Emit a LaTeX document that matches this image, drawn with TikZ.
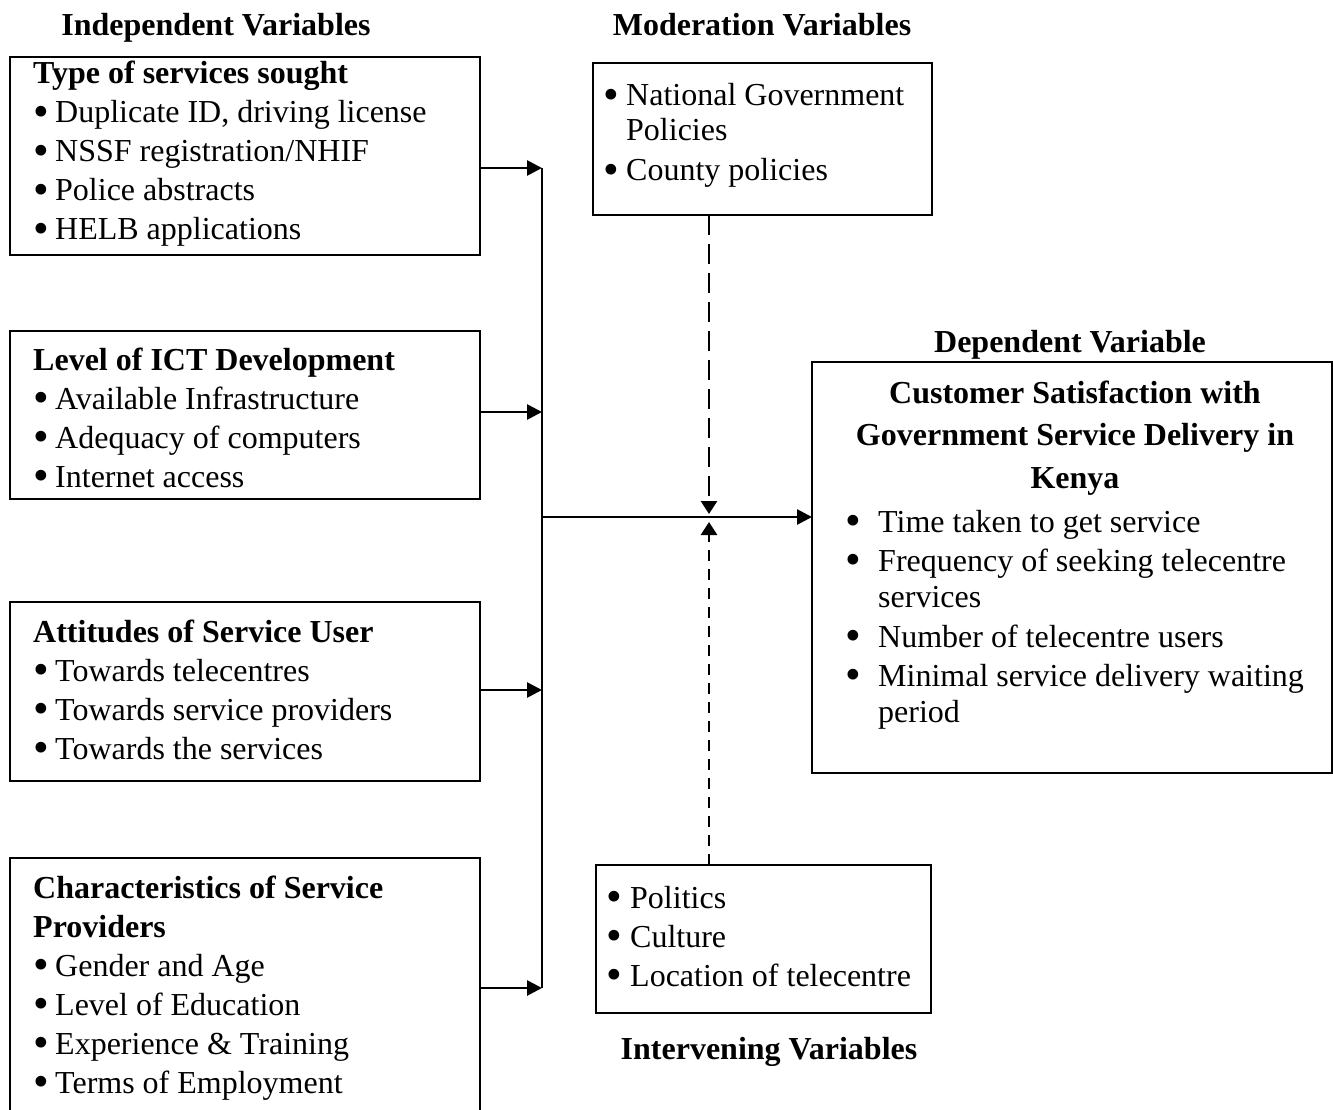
\documentclass[tikz,border=0pt]{standalone}
\usepackage{fontspec}
\setmainfont{Liberation Serif}
\usetikzlibrary{arrows.meta}
\newcommand{\bdot}{\smash{\raisebox{-3.8pt}{\scalebox{1.4}{•}}}}
\newcommand{\bl}{\makebox[22pt][l]{\bdot}}
\begin{document}
\begin{tikzpicture}[x=1pt,y=-1pt,
  box/.style={draw,line width=2pt,inner sep=0pt,outer sep=0pt,anchor=north west},
  txt/.style={anchor=base west,align=left,inner sep=0pt,font=\fontsize{32}{39}\selectfont},
  head/.style={anchor=base,inner sep=0pt,font=\fontsize{32}{39}\selectfont\bfseries},
  conn/.style={line width=2.7pt,-{Triangle[length=15pt,width=15pt]}},
  dconn/.style={line width=2.7pt,-{Triangle[length=13pt,width=16pt]}}]
\useasboundingbox (0,0) rectangle (1333,1110);
% headings
\node[head] (h1) at (216,36) {Independent Variables};
\node[head] (h2) at (762,36) {Moderation Variables};
\node[head] (h3) at (1070,352) {Dependent Variable};
\node[head] (h4) at (769,1059) {Intervening Variables};
% boxes
\node[box,minimum width=470pt,minimum height=198pt] (b1) at (10,57) {};
\node[box,minimum width=470pt,minimum height=168pt] (b2) at (10,331) {};
\node[box,minimum width=470pt,minimum height=179pt] (b3) at (10,602) {};
\node[box,minimum width=470pt,minimum height=280pt] (b4) at (10,858) {};
\node[box,minimum width=339pt,minimum height=152pt] (mod) at (593,63) {};
\node[box,minimum width=335pt,minimum height=148pt] (int) at (596,865) {};
\node[box,minimum width=520pt,minimum height=411pt] (dep) at (812,362) {};
% texts (anchored at the baseline of their last line)
\node[txt] (t1) at (33,240) {\textbf{Type of services sought}\\ \bl Duplicate ID, driving license\\ \bl NSSF registration/NHIF\\ \bl Police abstracts\\ \bl HELB applications};
\node[txt] (t2) at (33,487) {\textbf{Level of ICT Development}\\ \bl Available Infrastructure\\ \bl Adequacy of computers\\ \bl Internet access};
\node[txt] (t3) at (33,759) {\textbf{Attitudes of Service User}\\ \bl Towards telecentres\\ \bl Towards service providers\\ \bl Towards the services};
\node[txt] (t4) at (33,1093) {\textbf{Characteristics of Service}\\ \textbf{Providers}\\ \bl Gender and Age\\ \bl Level of Education\\ \bl Experience \& Training\\ \bl Terms of Employment};
\node[txt,font=\fontsize{32}{35.5}\selectfont] (tm) at (603,181) {\makebox[23pt][l]{\bdot}National Government\\ \hspace*{23pt}Policies\\[4.5pt] \makebox[23pt][l]{\bdot}County policies};
\node[txt] (ti) at (606,986) {\makebox[24pt][l]{\bdot}Politics\\ \makebox[24pt][l]{\bdot}Culture\\ \makebox[24pt][l]{\bdot}Location of telecentre};
\node[anchor=base,align=center,inner sep=0pt,font=\fontsize{32}{42.5}\selectfont\bfseries] (td) at (1075,488) {Customer Satisfaction with\\ Government Service Delivery in\\ Kenya};
\node[txt,font=\fontsize{32}{36}\selectfont] (tb) at (845,722) {\makebox[33pt][l]{\bdot}Time taken to get service\\[3pt] \makebox[33pt][l]{\bdot}Frequency of seeking telecentre\\ \hspace*{33pt}services\\[4pt] \makebox[33pt][l]{\bdot}Number of telecentre users\\[3pt] \makebox[33pt][l]{\bdot}Minimal service delivery waiting\\ \hspace*{33pt}period};
% connectors
\coordinate (j1) at (542,168);
\coordinate (j2) at (542,412);
\coordinate (j3) at (542,690);
\coordinate (j4) at (542,988);
\coordinate (jm) at (542,517);
\coordinate (md) at (709,514);
\coordinate (iu) at (709,522);
\draw[line width=2.7pt] (j1) -- (j4);
\draw[conn] (b1.east |- j1) -- (j1);
\draw[conn] (b2.east |- j2) -- (j2);
\draw[conn] (b3.east |- j3) -- (j3);
\draw[conn] (b4.east |- j4) -- (j4);
\draw[conn] (jm) -- (jm -| dep.west);
\draw[dconn,dash pattern=on 20pt off 9pt] (mod.south -| md) -- (md);
\draw[dconn,dash pattern=on 11pt off 8pt] (int.north -| iu) -- (iu);
\end{tikzpicture}
\end{document}
